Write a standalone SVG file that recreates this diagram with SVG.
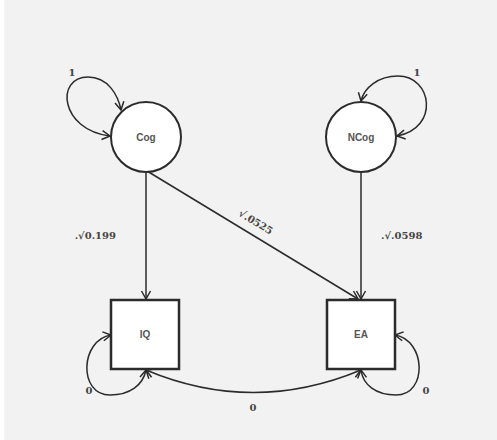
<svg xmlns="http://www.w3.org/2000/svg" width="497" height="440" viewBox="0 0 497 440">
  <style>
    .edge { fill: none; stroke: #2b2b2b; stroke-width: 1.5; }
    .latent { fill: #ffffff; stroke: #2b2b2b; stroke-width: 2; }
    .observed { fill: #ffffff; stroke: #2b2b2b; stroke-width: 2.5; }
    .name { font-family: "Liberation Sans", Arial, sans-serif; font-size: 10px; font-weight: bold; fill: #555555; text-anchor: middle; }
    .lbl { font-family: "DejaVu Serif", "Liberation Serif", serif; font-size: 10px; font-weight: bold; fill: #444444; }
  </style>
  <defs>
    <marker id="head" viewBox="-10 -6 12 12" refX="0" refY="0" markerWidth="12" markerHeight="12" markerUnits="userSpaceOnUse" orient="auto-start-reverse">
      <path d="M -8,-4.5 L 0,0 L -8,4.5" fill="none" stroke="#2b2b2b" stroke-width="1.5"/>
    </marker>
  </defs>

  <!-- panel -->
  <rect x="0" y="0" width="497" height="440" fill="#ffffff"/>
  <rect x="4" y="0" width="493" height="440" fill="#f2f2f2"/>

  <g id="connectors">
    <!-- regressions -->
    <line class="edge" x1="146" y1="172" x2="146" y2="299" marker-end="url(#head)"/>
    <line class="edge" x1="361" y1="172" x2="361" y2="299" marker-end="url(#head)"/>
    <line class="edge" x1="147" y1="171" x2="358" y2="299" marker-end="url(#head)"/>
    <!-- variances -->
    <path class="edge" d="M 110,136 C 60,130 55,77 88,77 C 108,77 118,95 121,110" marker-start="url(#head)" marker-end="url(#head)"/>
    <path class="edge" d="M 397,136 C 440,128 432,76 398,76 C 378,76 364,88 361,101" marker-start="url(#head)" marker-end="url(#head)"/>
    <path class="edge" d="M 111,335 C 80,340 78,395 110,395 C 130,395 143,385 146,370" marker-start="url(#head)" marker-end="url(#head)"/>
    <path class="edge" d="M 395,335 C 426,340 428,395 396,395 C 376,395 363,385 361,370" marker-start="url(#head)" marker-end="url(#head)"/>
    <!-- covariance -->
    <path class="edge" d="M 146,370 Q 253,415 361,370" marker-start="url(#head)" marker-end="url(#head)"/>

    <text class="lbl" x="72" y="76" text-anchor="middle">1</text>
    <text class="lbl" x="417" y="76" text-anchor="middle">1</text>
    <text class="lbl" x="116" y="239" text-anchor="end">.√0.199</text>
    <text class="lbl" x="381" y="239">.√.0598</text>
    <text class="lbl" x="0" y="0" text-anchor="middle" transform="translate(254,225) rotate(31)">√.0525</text>
    <text class="lbl" x="89" y="394" text-anchor="middle">0</text>
    <text class="lbl" x="426" y="394" text-anchor="middle">0</text>
    <text class="lbl" x="253" y="411" text-anchor="middle">0</text>
  </g>

  <g id="node-cog">
    <circle class="latent" cx="146" cy="137" r="35"/>
    <text class="name" x="146" y="141">Cog</text>
  </g>
  <g id="node-ncog">
    <circle class="latent" cx="361" cy="137" r="35"/>
    <text class="name" x="361" y="141">NCog</text>
  </g>
  <g id="node-iq">
    <rect class="observed" x="111" y="300" width="68" height="69"/>
    <text class="name" x="145" y="338">IQ</text>
  </g>
  <g id="node-ea">
    <rect class="observed" x="327" y="300" width="68" height="69"/>
    <text class="name" x="361" y="338">EA</text>
  </g>
</svg>
